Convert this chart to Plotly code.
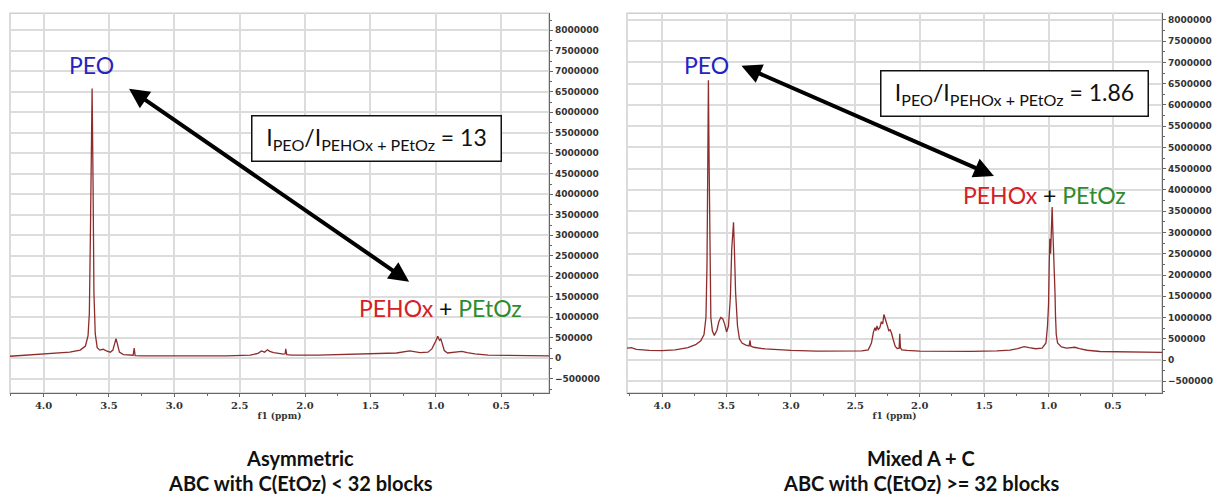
import plotly.graph_objects as go

# ---------------- data ----------------
# Left spectrum: "Asymmetric" sample, (ppm, intensity)
left_spectrum = [
    (4.257, 50e3), (4.1, 80e3), (4.0, 100e3), (3.9, 125e3), (3.8, 150e3), (3.72, 200e3),
    (3.68, 300e3), (3.66, 550e3), (3.65, 1.1e6), (3.642, 3.0e6), (3.636, 5.2e6), (3.629, 6.58e6),
    (3.622, 4.4e6), (3.615, 1.6e6), (3.605, 600e3), (3.59, 260e3), (3.57, 200e3), (3.545, 220e3),
    (3.52, 180e3), (3.49, 150e3), (3.47, 200e3), (3.456, 380e3), (3.446, 480e3), (3.436, 360e3),
    (3.42, 150e3), (3.39, 90e3), (3.34, 70e3), (3.315, 75e3), (3.307, 250e3), (3.30, 65e3),
    (3.25, 60e3), (3.0, 55e3), (2.6, 60e3), (2.42, 80e3), (2.36, 120e3), (2.333, 180e3),
    (2.31, 150e3), (2.288, 210e3), (2.27, 170e3), (2.24, 140e3), (2.2, 110e3), (2.165, 100e3),
    (2.152, 110e3), (2.148, 230e3), (2.14, 90e3), (2.1, 80e3), (1.9, 80e3), (1.6, 100e3),
    (1.4, 110e3), (1.3, 130e3), (1.2, 180e3), (1.12, 140e3), (1.06, 150e3), (1.03, 230e3),
    (1.0, 420e3), (0.985, 540e3), (0.977, 470e3), (0.97, 440e3), (0.962, 480e3), (0.95, 320e3),
    (0.935, 190e3), (0.91, 130e3), (0.87, 140e3), (0.83, 165e3), (0.80, 170e3), (0.76, 140e3),
    (0.70, 110e3), (0.6, 80e3), (0.45, 70e3), (0.3, 65e3), (0.134, 60e3),
]

# Right spectrum: "Mixed A + C" sample, (ppm, intensity)
right_spectrum = [
    (4.273, 280e3), (4.24, 290e3), (4.2, 250e3), (4.1, 225e3), (4.0, 220e3), (3.9, 240e3),
    (3.8, 290e3), (3.74, 360e3), (3.70, 450e3), (3.675, 600e3), (3.66, 1.0e6), (3.652, 2.2e6),
    (3.646, 4.5e6), (3.641, 6.58e6), (3.636, 4.8e6), (3.63, 2.2e6), (3.622, 1.0e6), (3.61, 680e3),
    (3.595, 580e3), (3.575, 700e3), (3.56, 900e3), (3.545, 1.0e6), (3.53, 970e3), (3.515, 850e3),
    (3.50, 660e3), (3.485, 800e3), (3.47, 1.5e6), (3.46, 2.6e6), (3.452, 3.2e6), (3.446, 3.24e6),
    (3.44, 2.7e6), (3.43, 1.6e6), (3.415, 800e3), (3.40, 500e3), (3.38, 400e3), (3.35, 350e3),
    (3.325, 330e3), (3.318, 460e3), (3.312, 330e3), (3.29, 300e3), (3.2, 260e3), (3.0, 225e3),
    (2.8, 210e3), (2.6, 205e3), (2.45, 215e3), (2.40, 240e3), (2.375, 400e3), (2.36, 650e3),
    (2.348, 760e3), (2.34, 690e3), (2.332, 800e3), (2.322, 720e3), (2.31, 760e3), (2.298, 900e3),
    (2.288, 850e3), (2.278, 1.07e6), (2.268, 960e3), (2.258, 870e3), (2.25, 740e3), (2.24, 690e3),
    (2.23, 710e3), (2.22, 640e3), (2.205, 470e3), (2.19, 320e3), (2.175, 270e3), (2.16, 280e3),
    (2.155, 620e3), (2.15, 290e3), (2.14, 240e3), (2.1, 225e3), (2.0, 210e3), (1.8, 205e3),
    (1.6, 205e3), (1.4, 215e3), (1.3, 235e3), (1.24, 270e3), (1.19, 315e3), (1.15, 290e3),
    (1.10, 265e3), (1.05, 280e3), (1.02, 400e3), (1.008, 800e3), (1.0, 1.3e6), (0.995, 2.2e6),
    (0.99, 2.85e6), (0.984, 2.5e6), (0.978, 2.9e6), (0.972, 3.6e6), (0.966, 3.0e6), (0.96, 2.6e6),
    (0.955, 2.3e6), (0.95, 1.6e6), (0.946, 1.05e6), (0.94, 600e3), (0.93, 400e3), (0.9, 310e3),
    (0.86, 280e3), (0.82, 295e3), (0.795, 300e3), (0.76, 270e3), (0.7, 230e3), (0.6, 200e3),
    (0.4, 185e3), (0.119, 180e3),
]

panel_titles = ["Asymmetric", "Mixed A + C"]
panel_subtitles = ["ABC with C(EtOz) &lt; 32 blocks", "ABC with C(EtOz) &gt;= 32 blocks"]
ratios = ["13", "1.86"]
x_label = "f1 (ppm)"

# ---------------- figure ----------------
W, H = 1213, 494
LINE = "#8e2c2c"
GRID = "#dcdcdc"
AXC = "#666666"
TICKF = dict(family="DejaVu Sans", size=9, color="#333333", weight="bold")
XTICKF = dict(family="DejaVu Serif", size=10, color="#333333", weight="bold")
LABF = "Lato"

def px(v):  # horizontal pixel -> paper
    return v / W

def py(v):  # vertical pixel -> paper
    return 1 - v / H

fig = go.Figure()
fig.add_trace(go.Scatter(x=[p for p, _ in left_spectrum], y=[v for _, v in left_spectrum],
                         mode="lines", line=dict(color=LINE, width=1.3),
                         xaxis="x", yaxis="y", showlegend=False))
fig.add_trace(go.Scatter(x=[p for p, _ in right_spectrum], y=[v for _, v in right_spectrum],
                         mode="lines", line=dict(color=LINE, width=1.3),
                         xaxis="x2", yaxis="y2", showlegend=False))

def xaxis(domain, rng, anchor):
    return dict(domain=domain, range=rng, anchor=anchor, dtick=0.5, tick0=0, tickformat=".1f",
                showgrid=True, gridcolor=GRID, gridwidth=1.5, zeroline=False,
                showline=True, linecolor=AXC, linewidth=1.2,
                ticks="outside", ticklen=3, tickcolor=AXC, tickfont=XTICKF,
                minor=dict(dtick=0.25, ticks="outside", ticklen=2, tickcolor=AXC, showgrid=False),
                title=dict(text=x_label, font=dict(family="DejaVu Serif", size=9, color="#333",
                                                   weight="bold"), standoff=0))

def yaxis(domain, rng, anchor):
    return dict(domain=domain, range=rng, anchor=anchor, side="right",
                dtick=500000, tick0=0, tickformat="d",
                showgrid=True, gridcolor=GRID, gridwidth=1.5, zeroline=False,
                showline=True, linecolor=AXC, linewidth=1.2,
                ticks="outside", ticklen=3, tickcolor=AXC, tickfont=TICKF,
                minor=dict(dtick=250000, ticks="outside", ticklen=2, tickcolor=AXC, showgrid=False))

ydom = [py(393), py(13.3)]
fig.update_layout(
    width=W, height=H, margin=dict(l=0, r=0, t=0, b=0),
    paper_bgcolor="white", plot_bgcolor="white",
    xaxis=xaxis([px(10), px(549)], [4.257, 0.134], "y"),
    yaxis=yaxis(ydom, [-846e3, 8.415e6], "x"),
    xaxis2=xaxis([px(627), px(1162)], [4.273, 0.119], "y2"),
    yaxis2=yaxis(ydom, [-776e3, 8.157e6], "x2"),
)

# frames
for xr, yr in (("x domain", "y domain"), ("x2 domain", "y2 domain")):
    fig.add_shape(type="rect", xref=xr, yref=yr, x0=0, x1=1, y0=0, y1=1,
                  line=dict(color="#cfcfcf", width=1.5), layer="below")

BLUE, RED, GREEN = "#2424c0", "#d42026", "#2e8b2e"

def panel_annotations(xr, yr, peo, arrow_a, arrow_b, box, pe, ratio):
    fig.add_annotation(xref=xr, yref=yr, x=peo[0], y=peo[1], text="PEO", showarrow=False,
                       font=dict(family=LABF, size=23, color=BLUE))
    fig.add_annotation(xref=xr, yref=yr, axref=xr, ayref=yr,
                       x=arrow_b[0], y=arrow_b[1], ax=arrow_a[0], ay=arrow_a[1], text="",
                       showarrow=True, arrowhead=2, startarrowhead=2, arrowside="end+start",
                       arrowsize=1.0, startarrowsize=1.0, arrowwidth=4, arrowcolor="black")
    fig.add_annotation(xref=xr, yref=yr, x=box[0], y=box[1],
                       text="I<sub>PEO</sub>/I<sub>PEHOx + PEtOz</sub> = " + ratio,
                       showarrow=False, bgcolor="white", bordercolor="#111", borderwidth=1.5,
                       borderpad=2, width=box[2], height=box[3],
                       font=dict(family=LABF, size=23, color="#111"))
    fig.add_annotation(xref=xr, yref=yr, x=pe[0], y=pe[1],
                       text=f"<span style='color:{RED}'>PEHOx</span> + "
                            f"<span style='color:{GREEN}'>PEtOz</span>",
                       showarrow=False, font=dict(family=LABF, size=23, color="#111"))

panel_annotations("x", "y", (3.63, 7.15e6), (3.358, 6.6e6), (1.204, 1.868e6),
                  (1.457, 5.35e6, 244, 40), (0.967, 1.227e6), ratios[0])
panel_annotations("x2", "y2", (3.652, 6.94e6), (3.396, 6.94e6), (1.424, 4.33e6),
                  (1.261, 6.26e6, 262, 40), (1.035, 3.88e6), ratios[1])

for cx, t, s in ((300, panel_titles[0], panel_subtitles[0]), (921, panel_titles[1], panel_subtitles[1])):
    fig.add_annotation(xref="paper", yref="paper", x=px(cx), y=py(458), text=f"<b>{t}</b>",
                       showarrow=False, xanchor="center", yanchor="middle",
                       font=dict(family=LABF, size=20, color="#111"))
    fig.add_annotation(xref="paper", yref="paper", x=px(cx), y=py(483), text=f"<b>{s}</b>",
                       showarrow=False, xanchor="center", yanchor="middle",
                       font=dict(family=LABF, size=20, color="#111"))

fig.write_html("out.html", config={"displayModeBar": False},
               post_script="document.body.style.margin='0';document.body.style.overflow='hidden';")
